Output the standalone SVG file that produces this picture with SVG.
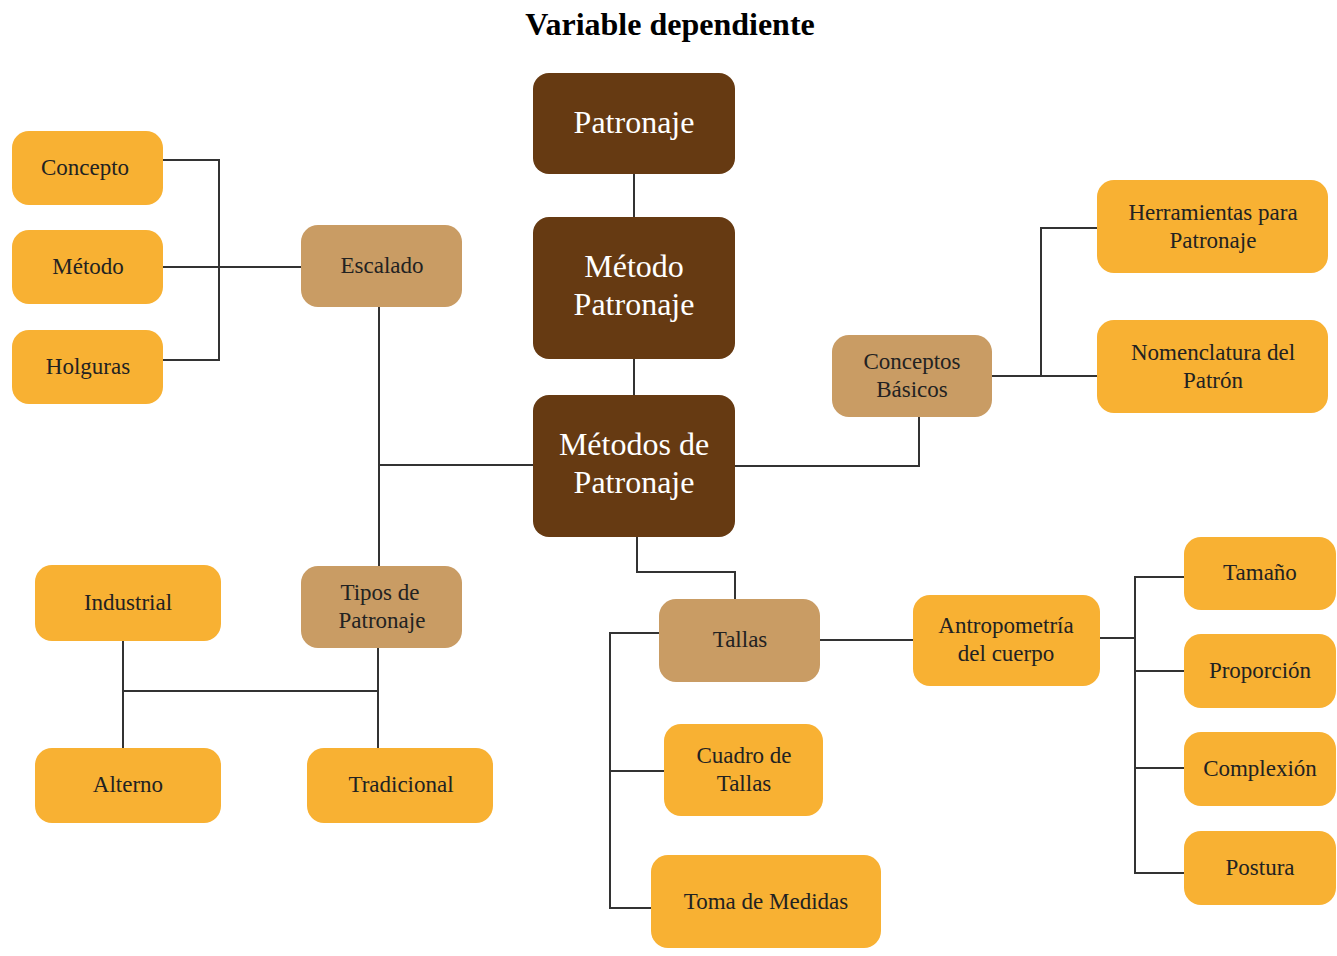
<svg xmlns="http://www.w3.org/2000/svg" width="1337" height="956" viewBox="0 0 1337 956">
<style>
.dk{fill:#663A12}
.or{fill:#F8B133}
.tn{fill:#C99C64}
text{font-family:"Liberation Serif","Times New Roman",serif;text-anchor:middle}
.t{font-size:23px;fill:#222}
.w{font-size:32px;fill:#fff}
.c{fill:none;stroke:#333;stroke-width:2}
</style>
<rect width="1337" height="956" fill="#fff"/>
<text x="670" y="35" style="font-size:32px;font-weight:bold;fill:#000">Variable dependiente</text>
<g id="connectors" class="c">
<path d="M634 174V217"/>
<path d="M634 359V395"/>
<path d="M163 160H219V360H163"/>
<path d="M163 267H301"/>
<path d="M379 307V566"/>
<path d="M379 465H533"/>
<path d="M378 648V748"/>
<path d="M123 641V748"/>
<path d="M123 691H378"/>
<path d="M735 466H919V417"/>
<path d="M992 376H1097"/>
<path d="M1041 376V228H1097"/>
<path d="M637 537V572H735V599"/>
<path d="M820 640H913"/>
<path d="M659 633H610V908H651"/>
<path d="M610 771H664"/>
<path d="M1100 638H1135"/>
<path d="M1184 577H1135V873H1184"/>
<path d="M1135 671H1184"/>
<path d="M1135 768H1184"/>
</g>
<g id="n-patronaje"><rect class="dk" x="533" y="73" width="202" height="101" rx="16"/><text class="w" x="634" y="133">Patronaje</text></g>
<g id="n-metodo-patronaje"><rect class="dk" x="533" y="217" width="202" height="142" rx="16"/><text class="w" x="634" y="277">Método</text><text class="w" x="634" y="315">Patronaje</text></g>
<g id="n-metodos-de-patronaje"><rect class="dk" x="533" y="395" width="202" height="142" rx="16"/><text class="w" x="634" y="455">Métodos de</text><text class="w" x="634" y="493">Patronaje</text></g>
<g id="n-concepto"><rect class="or" x="12" y="131" width="151" height="74" rx="17"/><text class="t" x="85" y="175">Concepto</text></g>
<g id="n-metodo"><rect class="or" x="12" y="230" width="151" height="74" rx="17"/><text class="t" x="88" y="274">Método</text></g>
<g id="n-holguras"><rect class="or" x="12" y="330" width="151" height="74" rx="17"/><text class="t" x="88" y="374">Holguras</text></g>
<g id="n-escalado"><rect class="tn" x="301" y="225" width="161" height="82" rx="17"/><text class="t" x="382" y="273">Escalado</text></g>
<g id="n-conceptos-basicos"><rect class="tn" x="832" y="335" width="160" height="82" rx="17"/><text class="t" x="912" y="369">Conceptos</text><text class="t" x="912" y="397">Básicos</text></g>
<g id="n-herramientas"><rect class="or" x="1097" y="180" width="231" height="93" rx="17"/><text class="t" x="1213" y="220">Herramientas para</text><text class="t" x="1213" y="248">Patronaje</text></g>
<g id="n-nomenclatura"><rect class="or" x="1097" y="320" width="231" height="93" rx="17"/><text class="t" x="1213" y="360">Nomenclatura del</text><text class="t" x="1213" y="388">Patrón</text></g>
<g id="n-tipos"><rect class="tn" x="301" y="566" width="161" height="82" rx="17"/><text class="t" x="380" y="600">Tipos de</text><text class="t" x="382" y="628">Patronaje</text></g>
<g id="n-industrial"><rect class="or" x="35" y="565" width="186" height="76" rx="17"/><text class="t" x="128" y="610">Industrial</text></g>
<g id="n-alterno"><rect class="or" x="35" y="748" width="186" height="75" rx="17"/><text class="t" x="128" y="792">Alterno</text></g>
<g id="n-tradicional"><rect class="or" x="307" y="748" width="186" height="75" rx="17"/><text class="t" x="401" y="792">Tradicional</text></g>
<g id="n-tallas"><rect class="tn" x="659" y="599" width="161" height="83" rx="17"/><text class="t" x="740" y="647">Tallas</text></g>
<g id="n-antropometria"><rect class="or" x="913" y="595" width="187" height="91" rx="17"/><text class="t" x="1006" y="633">Antropometría</text><text class="t" x="1006" y="661">del cuerpo</text></g>
<g id="n-cuadro"><rect class="or" x="664" y="724" width="159" height="92" rx="17"/><text class="t" x="744" y="763">Cuadro de</text><text class="t" x="744" y="791">Tallas</text></g>
<g id="n-toma"><rect class="or" x="651" y="855" width="230" height="93" rx="17"/><text class="t" x="766" y="909">Toma de Medidas</text></g>
<g id="n-tamano"><rect class="or" x="1184" y="537" width="152" height="73" rx="17"/><text class="t" x="1260" y="580">Tamaño</text></g>
<g id="n-proporcion"><rect class="or" x="1184" y="634" width="152" height="74" rx="17"/><text class="t" x="1260" y="678">Proporción</text></g>
<g id="n-complexion"><rect class="or" x="1184" y="732" width="152" height="74" rx="17"/><text class="t" x="1260" y="776">Complexión</text></g>
<g id="n-postura"><rect class="or" x="1184" y="831" width="152" height="74" rx="17"/><text class="t" x="1260" y="875">Postura</text></g>
</svg>
